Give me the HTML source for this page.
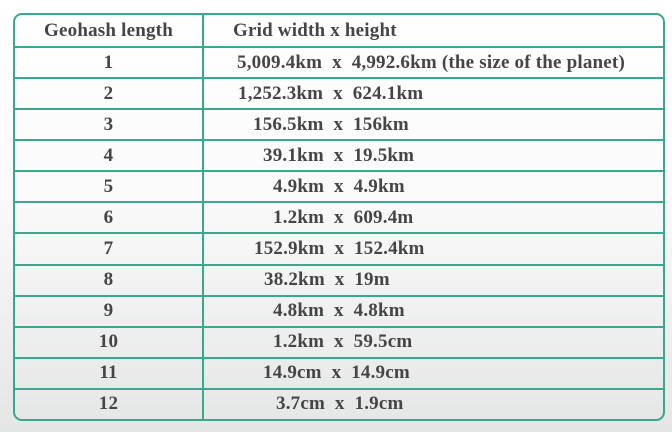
<!DOCTYPE html>
<html><head><meta charset="utf-8"><style>
html,body{margin:0;padding:0;}
body{width:672px;height:432px;overflow:hidden;background:linear-gradient(180deg,#ffffff 0%,#fafafa 45%,#e4e6e5 100%);font-family:"Liberation Serif",serif;}
.wrap{position:absolute;left:13px;top:13px;width:648px;height:404px;border:2px solid #3aa88f;border-radius:9px;overflow:hidden;}
table{border-collapse:collapse;width:100%;height:100%;}
td{border-top:2px solid #3aa88f;color:#454545;font-size:19px;letter-spacing:0.2px;font-weight:bold;text-align:left;padding:0;height:29px;white-space:nowrap;}
tr:first-child td{border-top:none;height:31px;}
td.c1{width:187px;border-right:2px solid #3aa88f;text-align:center;}
</style></head><body>
<div class="wrap">
<table>
<tr><td class="c1">Geohash length</td><td style="padding-left:29px">Grid width x height</td></tr>
<tr><td class="c1">1</td><td style="padding-left:33px">5,009.4km &nbsp;x &nbsp;4,992.6km (the size of the planet)</td></tr>
<tr><td class="c1">2</td><td style="padding-left:34px">1,252.3km &nbsp;x &nbsp;624.1km</td></tr>
<tr><td class="c1">3</td><td style="padding-left:49px">156.5km &nbsp;x &nbsp;156km</td></tr>
<tr><td class="c1">4</td><td style="padding-left:59px">39.1km &nbsp;x &nbsp;19.5km</td></tr>
<tr><td class="c1">5</td><td style="padding-left:69px">4.9km &nbsp;x &nbsp;4.9km</td></tr>
<tr><td class="c1">6</td><td style="padding-left:69px">1.2km &nbsp;x &nbsp;609.4m</td></tr>
<tr><td class="c1">7</td><td style="padding-left:50px">152.9km &nbsp;x &nbsp;152.4km</td></tr>
<tr><td class="c1">8</td><td style="padding-left:60px">38.2km &nbsp;x &nbsp;19m</td></tr>
<tr><td class="c1">9</td><td style="padding-left:69px">4.8km &nbsp;x &nbsp;4.8km</td></tr>
<tr><td class="c1">10</td><td style="padding-left:69px">1.2km &nbsp;x &nbsp;59.5cm</td></tr>
<tr><td class="c1">11</td><td style="padding-left:59px">14.9cm &nbsp;x &nbsp;14.9cm</td></tr>
<tr><td class="c1">12</td><td style="padding-left:72px">3.7cm &nbsp;x &nbsp;1.9cm</td></tr>
</table>
</div>
</body></html>
